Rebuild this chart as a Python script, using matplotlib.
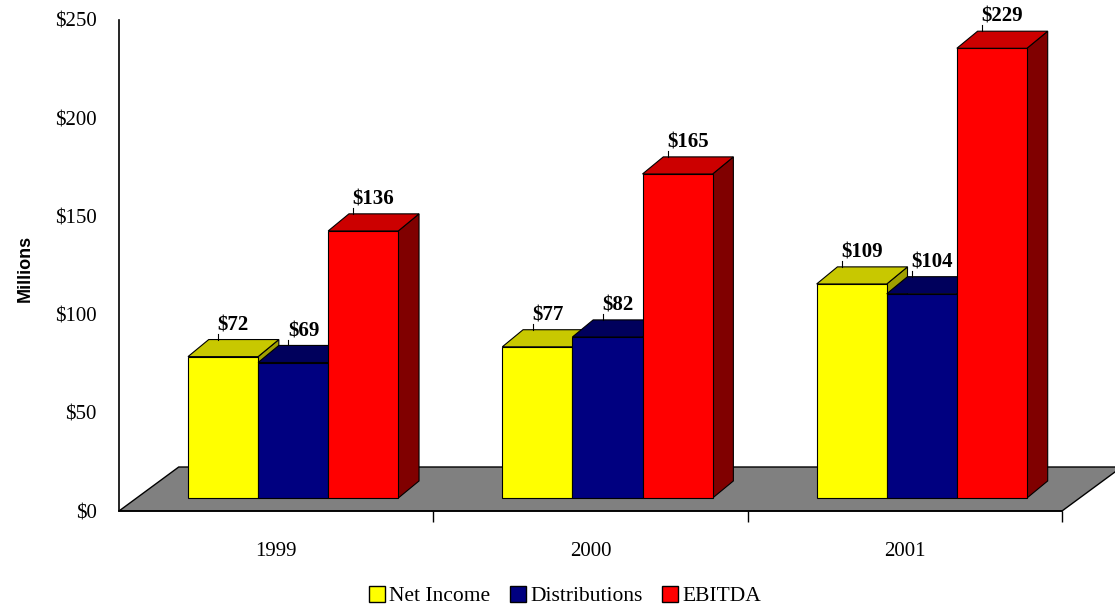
import numpy as np
import matplotlib
matplotlib.use('Agg')
from matplotlib import pyplot as plt
from matplotlib.patches import Polygon, Patch

years = ['1999', '2000', '2001']
series = ['Net Income', 'Distributions', 'EBITDA']
net_income = [72, 77, 109]
distributions = [69, 82, 104]
ebitda = [136, 165, 229]
y_ticks = [0, 50, 100, 150, 200, 250]

front_cols = ['#ffff00', '#000080', '#ff0000']
top_cols = ['#c8c800', '#00005c', '#cc0000']
side_cols = ['#a0a000', '#000050', '#800000']

# fake 3d geometry, in data units (x = category, y = millions)
bar_w = 0.223
off_x, off_y = 0.054, 6.6      # bar front sits a bit back on the floor
dep_x, dep_y = 0.066, 8.7      # bar depth
floor_x, floor_y = 0.19, 22.4  # floor depth

fig = plt.figure(figsize=(11.15, 6.11), dpi=100)
ax = fig.add_axes([119 / 1115, 1 - 511 / 611, 943 / 1115, 491 / 611])
ax.set_xlim(-0.5, 2.5)
ax.set_ylim(0, 250)

# floor
floor = Polygon([(-0.5, 0), (2.5, 0), (2.5 + floor_x, floor_y), (-0.5 + floor_x, floor_y)],
                closed=True, facecolor='#808080', edgecolor='black', lw=1, zorder=1, clip_on=False)
ax.add_patch(floor)

vals = [net_income, distributions, ebitda]
x = np.arange(len(years))
z = 2
for i, yr in enumerate(years):
    for j in range(len(series)):
        v = vals[j][i]
        x0 = x[i] - 1.5 * bar_w + j * bar_w + off_x
        x1 = x0 + bar_w
        y0 = off_y
        y1 = off_y + v
        front = Polygon([(x0, y0), (x1, y0), (x1, y1), (x0, y1)],
                        facecolor=front_cols[j], edgecolor='black', lw=0.8, zorder=z, clip_on=False)
        top = Polygon([(x0, y1), (x1, y1), (x1 + dep_x, y1 + dep_y), (x0 + dep_x, y1 + dep_y)],
                      facecolor=top_cols[j], edgecolor='black', lw=0.8, zorder=z, clip_on=False)
        side = Polygon([(x1, y0), (x1 + dep_x, y0 + dep_y), (x1 + dep_x, y1 + dep_y), (x1, y1)],
                       facecolor=side_cols[j], edgecolor='black', lw=0.8, zorder=z, clip_on=False)
        ax.add_patch(side)
        ax.add_patch(front)
        ax.add_patch(top)
        z += 1
        # value label
        lab = '$%d' % v
        xc = (x0 + x1) / 2 + dep_x / 2
        yt = y1 + dep_y
        ax.text(xc, yt + 2.2, lab, ha='center', va='bottom', fontsize=15,
                fontweight='bold', family='Liberation Serif', zorder=50, clip_on=False)
        lx = xc - 0.016 * len(lab)
        ax.plot([lx, lx], [yt, yt + 3], color='black', lw=0.8, zorder=50, clip_on=False)

for s in ['top', 'right']:
    ax.spines[s].set_visible(False)
ax.spines['left'].set_linewidth(1.2)
ax.spines['bottom'].set_linewidth(1.2)
ax.spines['left'].set_zorder(60)

ax.set_xticks(x)
ax.set_xticklabels(years, family='Liberation Serif', fontsize=15)
ax.set_xticks([0.5, 1.5, 2.5], minor=True)
ax.tick_params(axis='x', which='major', length=0, pad=22)
ax.tick_params(axis='x', which='minor', length=8, width=1, direction='out')
ax.set_yticks(y_ticks)
ax.set_yticklabels(['$%d' % t for t in y_ticks], family='Liberation Serif', fontsize=15)
ax.tick_params(axis='y', length=0, pad=16)

fig.text(25 / 1115, 1 - 268 / 611, 'Millions', rotation=90, ha='center', va='center',
         fontsize=13, fontweight='bold', family='Liberation Sans')

handles = [Patch(facecolor=c, edgecolor='black', lw=1) for c in front_cols]
fig.legend(handles, series, loc='center', bbox_to_anchor=(565 / 1115, 1 - 596 / 611),
           ncol=3, frameon=False, handlelength=0.75, handleheight=0.75, handletextpad=0.2,
           columnspacing=0.9, prop={'family': 'Liberation Serif', 'size': 15.5})

fig.savefig('out.png', dpi=100)
